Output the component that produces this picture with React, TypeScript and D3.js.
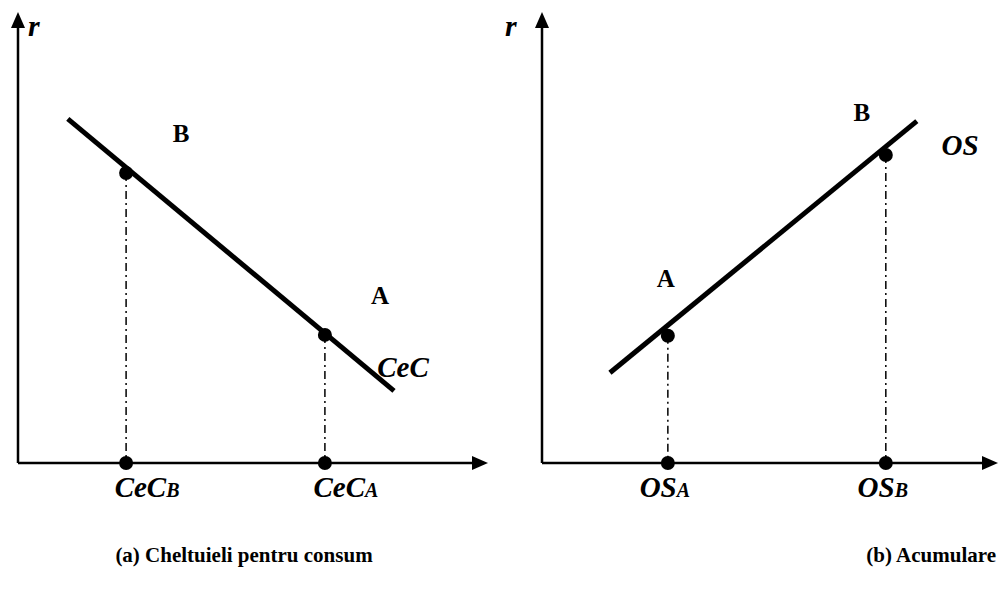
import React from "react";
import * as d3 from "d3";

const W = 1000;
const H = 596;

// Panel (a): consumption spending, downward line
const leftLine = [
  { x: 1.06, y: 7.63 },
  { x: 8.0, y: 1.6 },
];
const leftPoints = [
  { name: "B", sub: "B", x: 2.3, y: 6.43 },
  { name: "A", sub: "A", x: 6.53, y: 2.84 },
];
// Panel (b): accumulation, upward line
const rightLine = [
  { x: 1.49, y: 2.0 },
  { x: 8.22, y: 7.58 },
];
const rightPoints = [
  { name: "A", sub: "A", x: 2.76, y: 2.82 },
  { name: "B", sub: "B", x: 7.54, y: 6.83 },
];

const FONT = "'Liberation Serif', 'Times New Roman', serif";

type Pt = { x: number; y: number };
type NP = { name: string; sub: string; x: number; y: number };

function Panel(props: {
  x0: number;
  x1: number;
  line: Pt[];
  points: NP[];
  base: string;
  baseOffset: number;
  curveLabel: string;
  curveLabelPos: [number, number];
  pointLabelOffsets: [number, number][];
  rLabelX: number;
  title: string;
  titleX: number;
  titleAnchor: string;
}) {
  const x = d3.scaleLinear().domain([0, 10]).range([props.x0, props.x1]);
  const y = d3.scaleLinear().domain([0, 10]).range([463, 12]);
  const lineGen = d3
    .line<Pt>()
    .x((d) => x(d.x))
    .y((d) => y(d.y));
  const ax = x(0);
  const ay = y(0);
  const xEnd = x(10);
  const yEnd = y(10);
  return (
    <g>
      {/* axes */}
      <line x1={ax} y1={ay} x2={ax} y2={yEnd + 14} stroke="#000" strokeWidth={2.5} />
      <line x1={ax} y1={ay} x2={xEnd - 14} y2={ay} stroke="#000" strokeWidth={2.5} />
      <path
        d={`M${ax},${yEnd} L${ax - 7},${yEnd + 16} L${ax + 7},${yEnd + 16} Z`}
        fill="#000"
      />
      <path
        d={`M${xEnd},${ay} L${xEnd - 16},${ay - 7} L${xEnd - 16},${ay + 7} Z`}
        fill="#000"
      />
      <text
        x={props.rLabelX}
        y={36}
        fontFamily={FONT}
        fontStyle="italic"
        fontWeight="bold"
        fontSize={30}
      >
        r
      </text>
      {/* drop lines */}
      {props.points.map((p, i) => (
        <line
          key={"d" + i}
          x1={x(p.x)}
          y1={y(p.y)}
          x2={x(p.x)}
          y2={ay}
          stroke="#000"
          strokeWidth={1.5}
          strokeDasharray="8,4,2,4"
        />
      ))}
      {/* main line */}
      <path d={lineGen(props.line) || ""} stroke="#000" strokeWidth={5} fill="none" />
      {props.points.map((p, i) => (
        <g key={"p" + i}>
          <circle cx={x(p.x)} cy={y(p.y)} r={7} fill="#000" />
          <circle cx={x(p.x)} cy={ay} r={7} fill="#000" />
          <text
            x={x(p.x) + props.pointLabelOffsets[i][0]}
            y={y(p.y) + props.pointLabelOffsets[i][1]}
            fontFamily={FONT}
            fontWeight="bold"
            fontSize={25}
            textAnchor="middle"
          >
            {p.name}
          </text>
          <text
            x={x(p.x) + props.baseOffset}
            y={497}
            fontFamily={FONT}
            fontStyle="italic"
            fontWeight="bold"
            fontSize={29}
            textAnchor="middle"
          >
            {props.base}
            <tspan fontSize={20}>{p.sub}</tspan>
          </text>
        </g>
      ))}
      <text
        x={props.curveLabelPos[0]}
        y={props.curveLabelPos[1]}
        fontFamily={FONT}
        fontStyle="italic"
        fontWeight="bold"
        fontSize={29}
        textAnchor="middle"
      >
        {props.curveLabel}
      </text>
      <text
        x={props.titleX}
        y={562}
        fontFamily={FONT}
        fontWeight="bold"
        fontSize={21}
        textAnchor={props.titleAnchor}
      >
        {props.title}
      </text>
    </g>
  );
}

export default function App() {
  return (
    <svg
      width={W}
      height={H}
      style={{ position: "absolute", left: 0, top: 0, background: "#fff" }}
    >
      <rect width={W} height={H} fill="#fff" />
      <Panel
        x0={18}
        x1={488}
        line={leftLine}
        points={leftPoints}
        base="CeC"
        baseOffset={21}
        curveLabel="CeC"
        curveLabelPos={[403, 377]}
        pointLabelOffsets={[
          [55, -31],
          [55, -31],
        ]}
        rLabelX={28}
        title="(a) Cheltuieli pentru consum"
        titleX={244}
        titleAnchor="middle"
      />
      <Panel
        x0={542}
        x1={998}
        line={rightLine}
        points={rightPoints}
        base="OS"
        baseOffset={-3}
        curveLabel="OS"
        curveLabelPos={[960, 155]}
        pointLabelOffsets={[
          [-2, -49],
          [-24, -34],
        ]}
        rLabelX={505}
        title="(b) Acumulare"
        titleX={996}
        titleAnchor="end"
      />
    </svg>
  );
}
